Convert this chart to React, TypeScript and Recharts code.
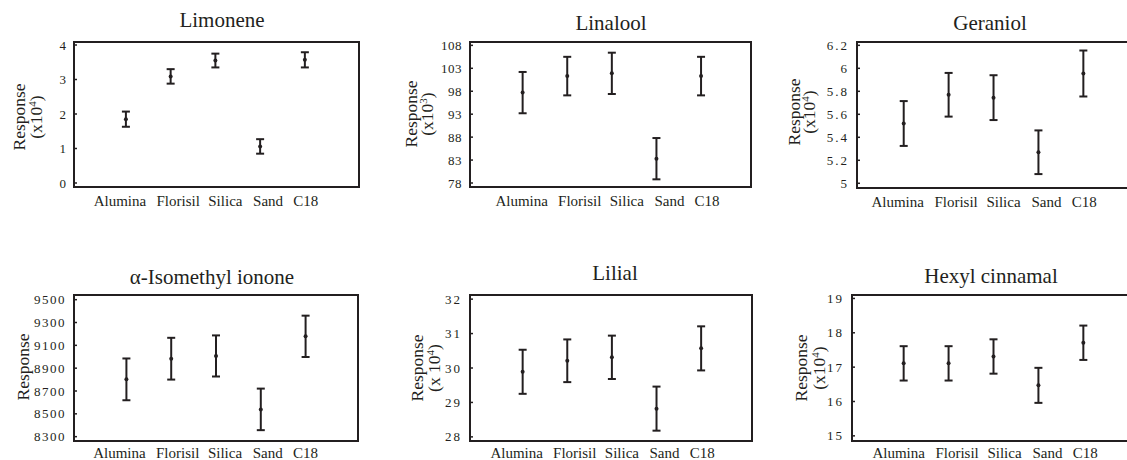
import React from 'react';
import { ScatterChart, Scatter, XAxis, YAxis, ErrorBar, ReferenceArea } from 'recharts';

const categories = ['Alumina', 'Florisil', 'Silica', 'Sand', 'C18'];
const categoryIndex = [0, 1, 2, 3, 4];

const limoneneMean = [1.85, 3.09, 3.55, 1.06, 3.57];
const limoneneErr = [0.22, 0.21, 0.2, 0.21, 0.22];
const limoneneTicks = [0, 1, 2, 3, 4];

const linaloolMean = [97.7, 101.3, 101.9, 83.3, 101.3];
const linaloolErr = [4.5, 4.2, 4.5, 4.5, 4.2];
const linaloolTicks = [78, 83, 88, 93, 98, 103, 108];

const geraniolMean = [5.52, 5.77, 5.745, 5.27, 5.955];
const geraniolErr = [0.195, 0.19, 0.195, 0.19, 0.2];
const geraniolTicks = [5, 5.2, 5.4, 5.6, 5.8, 6, 6.2];

const iononeMean = [8802, 8983, 9007, 8539, 9179];
const iononeErr = [183, 183, 180, 182, 181];
const iononeTicks = [8300, 8500, 8700, 8900, 9100, 9300, 9500];

const lilialMean = [29.89, 30.21, 30.31, 28.82, 30.57];
const lilialErr = [0.64, 0.62, 0.63, 0.64, 0.64];
const lilialTicks = [28, 29, 30, 31, 32];

const hexylMean = [17.11, 17.11, 17.31, 16.47, 17.71];
const hexylErr = [0.5, 0.5, 0.5, 0.51, 0.5];
const hexylTicks = [15, 16, 17, 18, 19];

// horizontal nudges (px) of the category captions relative to their points
const captionNudge = [-6, 7.5, 10, 8, 1];

const INK = '#231f20';
const FONT = '"Liberation Serif", "Times New Roman", serif';

type Panel = {
  title: string;
  mean: number[];
  err: number[];
  ticks: number[];
  yDomain: [number, number];
  xDomain: [number, number];
  box: { x: number; y: number; w: number; h: number };
  titlePos: [number, number];
  unit: string | null;
  sup: string | null;
  labelRel: [number, number];
  labelCy: number;
  tickSpacing: number;
  xGap: number;
  captionShift: number;
};

const panels: Panel[] = [
  {
    title: 'Limonene', mean: limoneneMean, err: limoneneErr, ticks: limoneneTicks,
    yDomain: [-0.116, 4.087], xDomain: [-1.16, 5.21],
    box: { x: 74, y: 42, w: 285, h: 145 }, titlePos: [222, 27],
    unit: '(x10', sup: '4', labelRel: [49, 32], labelCy: 117, tickSpacing: 0, xGap: 8, captionShift: 0,
  },
  {
    title: 'Linalool', mean: linaloolMean, err: linaloolErr, ticks: linaloolTicks,
    yDomain: [77.13, 108.73], xDomain: [-1.18, 5.12],
    box: { x: 470, y: 42, w: 281, h: 145 }, titlePos: [611, 30],
    unit: '(x10', sup: '3', labelRel: [53, 37], labelCy: 114, tickSpacing: 0.5, xGap: 8, captionShift: 5,
  },
  {
    title: 'Geraniol', mean: geraniolMean, err: geraniolErr, ticks: geraniolTicks,
    yDomain: [4.959, 6.229], xDomain: [-1.04, 5.15],
    box: { x: 857, y: 42, w: 278, h: 146 }, titlePos: [990, 29.5],
    unit: '(x10', sup: '4', labelRel: [57, 42], labelCy: 112, tickSpacing: 2, xGap: 8, captionShift: 0,
  },
  {
    title: 'α-Isomethyl ionone', mean: iononeMean, err: iononeErr, ticks: iononeTicks,
    yDomain: [8262, 9541], xDomain: [-1.17, 5.17],
    box: { x: 74, y: 295, w: 284, h: 146 }, titlePos: [212, 284],
    unit: null, sup: null, labelRel: [45, 0], labelCy: 367, tickSpacing: 1.5, xGap: 6, captionShift: -1,
  },
  {
    title: 'Lilial', mean: lilialMean, err: lilialErr, ticks: lilialTicks,
    yDomain: [27.88, 32.12], xDomain: [-1.18, 5.14],
    box: { x: 470, y: 295, w: 282, h: 146 }, titlePos: [615, 280],
    unit: '(x 10', sup: '4', labelRel: [47, 30], labelCy: 368, tickSpacing: 2, xGap: 6, captionShift: 0,
  },
  {
    title: 'Hexyl cinnamal', mean: hexylMean, err: hexylErr, ticks: hexylTicks,
    yDomain: [14.85, 19.1], xDomain: [-1.15, 5.15],
    box: { x: 852, y: 295, w: 283, h: 146 }, titlePos: [991, 283],
    unit: '(x10', sup: '4', labelRel: [45, 27], labelCy: 368, tickSpacing: 2, xGap: 6, captionShift: 1,
  },
];

const ML = 60;
const MT = 10;
const MR = 10;
const XH = 30;

const Dot = (props: any) => {
  const { cx, cy } = props;
  if (cx == null || cy == null) return null;
  return <circle cx={cx} cy={cy} r={2} fill={INK} />;
};

const makeCaption = (shift: number) => (props: any) => {
  const { x, y, payload } = props;
  const i = payload?.value as number;
  return (
    <text
      x={x + (captionNudge[i] ?? 0) + shift}
      y={y}
      dy="0.71em"
      textAnchor="middle"
      fill={INK}
      fontSize={15}
      style={{ fontFamily: FONT }}
    >
      {categories[i] ?? ''}
    </text>
  );
};

function PanelChart({ p }: { p: Panel }) {
  const data = categoryIndex.map((i) => ({ x: i, y: p.mean[i], err: p.err[i] }));
  const width = p.box.w + ML + MR;
  const height = p.box.h + MT + XH;
  return (
    <div style={{ position: 'absolute', left: p.box.x - ML, top: p.box.y - MT, width, height }}>
      <ScatterChart width={width} height={height} margin={{ top: MT, right: MR, left: 0, bottom: 0 }}>
        <XAxis
          type="number"
          dataKey="x"
          domain={p.xDomain}
          allowDataOverflow
          ticks={categoryIndex}
          interval={0}
          axisLine={false}
          tickLine={false}
          tickSize={0}
          tickMargin={p.xGap}
          height={XH}
          tick={makeCaption(p.captionShift)}
        />
        <YAxis
          type="number"
          dataKey="y"
          domain={p.yDomain}
          allowDataOverflow
          ticks={p.ticks}
          interval={0}
          axisLine={false}
          tickLine={{ stroke: INK, strokeWidth: 1.5 }}
          tickSize={-3}
          tickMargin={11}
          width={ML}
          tick={{ fill: INK, fontSize: 13, fontFamily: FONT, letterSpacing: p.tickSpacing }}
        />
        <ReferenceArea
          x1={p.xDomain[0]}
          x2={p.xDomain[1]}
          y1={p.yDomain[0]}
          y2={p.yDomain[1]}
          fill="none"
          fillOpacity={0}
          stroke={INK}
          strokeWidth={2}
          ifOverflow="visible"
        />
        <Scatter data={data} dataKey="y" shape={Dot} isAnimationActive={false}>
          <ErrorBar dataKey="err" direction="y" width={4} stroke={INK} strokeWidth={2} isAnimationActive={false} />
        </Scatter>
      </ScatterChart>
    </div>
  );
}

function Labels() {
  return (
    <svg width={1127} height={460} style={{ position: 'absolute', left: 0, top: 0, pointerEvents: 'none' }}>
      {panels.map((p, k) => (
        <g key={k} fill={INK} style={{ fontFamily: FONT }}>
          <text x={p.titlePos[0]} y={p.titlePos[1]} textAnchor="middle" fontSize={21}>
            {p.title}
          </text>
          <text
            transform={`translate(${p.box.x - p.labelRel[0]},${p.labelCy}) rotate(-90)`}
            textAnchor="middle"
            fontSize={17.5}
          >
            Response
          </text>
          {p.unit && (
            <text
              transform={`translate(${p.box.x - p.labelRel[1]},${p.labelCy}) rotate(-90)`}
              textAnchor="middle"
              fontSize={17.5}
            >
              {p.unit}
              <tspan dy={-6} fontSize={11}>{p.sup}</tspan>
              <tspan dy={6}>)</tspan>
            </text>
          )}
        </g>
      ))}
    </svg>
  );
}

export default function App() {
  return (
    <div
      style={{
        position: 'absolute',
        left: 0,
        top: 0,
        width: 1127,
        height: 460,
        overflow: 'hidden',
        background: '#fff',
      }}
    >
      {panels.map((p, k) => (
        <PanelChart key={k} p={p} />
      ))}
      <Labels />
    </div>
  );
}
